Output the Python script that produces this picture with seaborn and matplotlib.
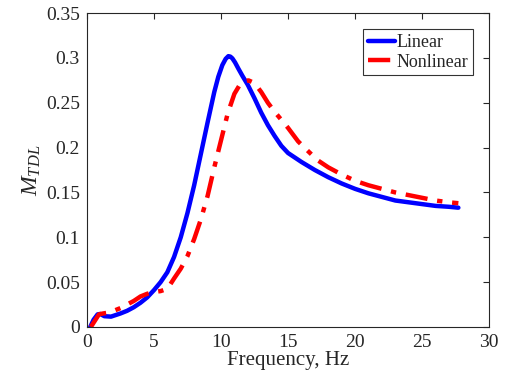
import numpy as np
import pandas as pd
import matplotlib
matplotlib.use("Agg")
import matplotlib.pyplot as plt
from matplotlib.ticker import FuncFormatter
import seaborn as sns

# === Data ===
freq_lin = [0.25, 0.5, 0.8, 1.0, 1.3, 1.8, 2.5, 3.0, 3.5, 4.0, 4.5, 5.0, 5.5, 6.0,
            6.5, 7.0, 7.5, 8.0, 8.5, 9.0, 9.5, 9.8, 10.1, 10.35, 10.55, 10.7, 10.85,
            11.05, 11.3, 11.6, 12.0, 12.5, 13.0, 13.5, 14.0, 14.5, 15.0, 16.0, 17.0,
            18.0, 19.0, 20.0, 21.0, 22.0, 23.0, 24.0, 25.0, 26.0, 27.0, 27.7]
m_lin = [0.0, 0.008, 0.014, 0.0145, 0.012, 0.0115, 0.015, 0.018, 0.022, 0.027,
         0.033, 0.041, 0.050, 0.061, 0.078, 0.100, 0.127, 0.158, 0.193, 0.228,
         0.262, 0.279, 0.292, 0.299, 0.302, 0.3015, 0.2995, 0.295, 0.288, 0.280,
         0.270, 0.255, 0.239, 0.225, 0.213, 0.202, 0.194, 0.184, 0.175, 0.167,
         0.160, 0.154, 0.149, 0.145, 0.141, 0.139, 0.137, 0.135, 0.134, 0.133]

freq_nl = [0.3, 0.6, 0.9, 1.2, 1.6, 2.0, 2.5, 3.0, 3.5, 4.0, 4.5, 5.0, 5.5, 5.9,
           6.2, 6.5, 7.0, 7.5, 8.0, 8.5, 9.0, 9.5, 10.0, 10.5, 11.0, 11.4, 11.75,
           12.05, 12.35, 12.7, 13.0, 13.5, 14.0, 14.5, 15.0, 15.75, 16.5, 17.2, 18.0,
           19.0, 20.0, 21.0, 22.0, 23.0, 24.0, 25.0, 26.0, 27.0, 27.7]
m_nl = [0.0, 0.007, 0.014, 0.015, 0.016, 0.018, 0.021, 0.025, 0.029, 0.034, 0.037,
        0.039, 0.040, 0.042, 0.047, 0.054, 0.065, 0.079, 0.098, 0.120, 0.146,
        0.178, 0.208, 0.238, 0.260, 0.270, 0.274, 0.275, 0.273, 0.268, 0.262,
        0.250, 0.240, 0.231, 0.222, 0.207, 0.196, 0.186, 0.178, 0.170, 0.163,
        0.158, 0.154, 0.150, 0.147, 0.144, 0.141, 0.139, 0.138]

x_ticks = [0, 5, 10, 15, 20, 25, 30]
y_ticks = [0, 0.05, 0.1, 0.15, 0.2, 0.25, 0.3, 0.35]

df_lin = pd.DataFrame({'freq': freq_lin, 'M': m_lin})
df_nl = pd.DataFrame({'freq': freq_nl, 'M': m_nl})

sns.set_style("white")
plt.rcParams['font.family'] = ['Liberation Serif', 'DejaVu Serif']
plt.rcParams['mathtext.fontset'] = 'custom'
plt.rcParams['mathtext.it'] = 'Liberation Serif:italic'
plt.rcParams['mathtext.rm'] = 'Liberation Serif'

fig = plt.figure(figsize=(5.08, 3.86), dpi=100)
ax = fig.add_axes([0.171, 0.153, 0.792, 0.813])

sns.lineplot(data=df_lin, x='freq', y='M', ax=ax, color='#0000ff', linewidth=3.2,
             label='Linear', sort=False, estimator=None)
sns.lineplot(data=df_nl, x='freq', y='M', ax=ax, color='#ff0000', linewidth=3.2,
             label='Nonlinear', sort=False, estimator=None)
ax.lines[1].set_dashes([5, 2.2, 1.2, 2.2])
for ln in ax.lines:
    ln.set_solid_joinstyle('round')
    ln.set_dash_joinstyle('round')

ax.set_xlim(0, 30)
ax.set_ylim(0, 0.35)
ax.set_xticks(x_ticks)
ax.set_yticks(y_ticks)
ax.yaxis.set_major_formatter(FuncFormatter(lambda v, p: f"{v:g}"))
ax.tick_params(direction='in', length=4, width=0.8, top=True, right=True,
               labelsize=14, colors='#262626', pad=5)
for s in ax.spines.values():
    s.set_color('#262626')
    s.set_linewidth(0.8)

ax.set_xlabel("Frequency, Hz", fontsize=15, color='#262626', labelpad=0)
ax.set_ylabel("$M_{TDL}$", fontsize=17, color='#262626', labelpad=2)

leg = ax.legend(loc='upper right', fontsize=13, frameon=True, fancybox=False,
                edgecolor='black', handlelength=1.5, handletextpad=0.1,
                borderpad=0.25, labelspacing=0.15, borderaxespad=0.9)
leg.get_frame().set_linewidth(0.8)

fig.savefig("out.png", dpi=100)
